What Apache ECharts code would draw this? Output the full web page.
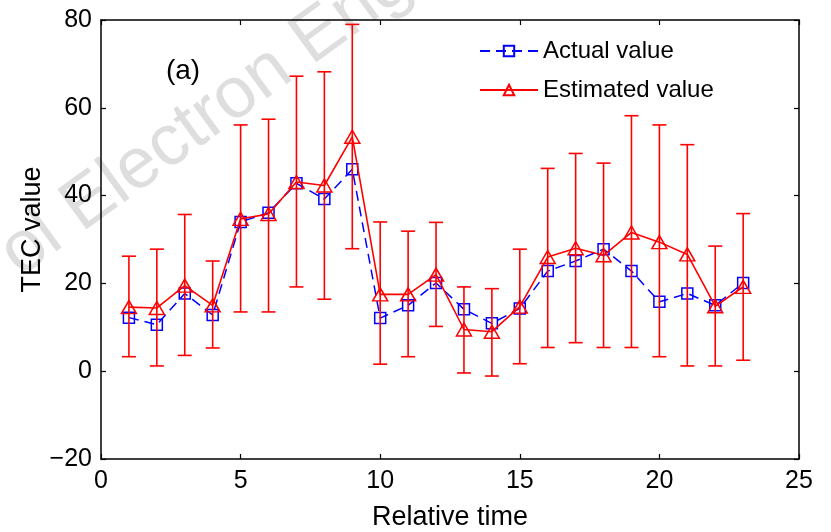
<!DOCTYPE html>
<html><head><meta charset="utf-8">
<script src="https://cdn.jsdelivr.net/npm/echarts@6/dist/echarts.min.js"></script>
<style>html,body{margin:0;padding:0;background:#fff}#c{width:831px;height:532px}</style>
</head><body><div id="c"></div><script>
const times = [1,2,3,4,5,6,7,8,9,10,11,12,13,14,15,16,17,18,19,20,21,22,23];
const actualValue = [12.2,10.6,17.7,12.8,34.0,36.1,42.8,39.2,46.0,12.1,15.0,20.1,14.1,10.9,14.3,22.8,25.1,27.8,22.8,15.8,17.7,15.0,20.1];
const estimatedValue = [14.6,14.4,19.5,15.0,34.7,35.8,43.1,42.3,53.4,17.5,17.5,22.0,9.5,9.0,14.7,26.0,28.0,26.4,31.6,29.4,26.6,14.8,19.2];
const errLow = [3.3,1.2,3.6,5.3,13.5,13.5,19.2,16.4,27.9,1.6,3.3,10.2,-0.4,-1.1,1.7,5.4,6.5,5.4,5.4,3.3,1.2,1.2,2.5];
const errHigh = [26.2,27.8,35.7,25.1,56.1,57.4,67.2,68.2,79.0,34.0,31.9,33.9,19.2,18.8,27.8,46.2,49.6,47.4,58.2,56.1,51.6,28.5,35.9];
const seriesNames = ['Actual value','Estimated value'];
const xTitle = 'Relative time';
const yTitle = 'TEC value';
const panelLabel = '(a)';
const watermark = 'ol Electron Eng';

const FONT = '"Liberation Sans", Arial, sans-serif';
const chart = echarts.init(document.getElementById('c'), null, {renderer:'canvas'});
const axisCommon = {
  axisLine:{show:true, onZero:false, lineStyle:{color:'#000', width:1.5}},
  axisTick:{show:true, inside:true, length:5, lineStyle:{color:'#000', width:1.2}},
  splitLine:{show:false}
};
chart.setOption({
  animation:false,
  backgroundColor:'#fff',
  graphic:[
    {type:'text', x:206, y:118, rotation:36*Math.PI/180, z:-10, silent:true,
     style:{text:watermark, font:'72px '+FONT, fill:'#dedede', align:'center', verticalAlign:'middle'}},
    {type:'text', x:183, y:71, z:10,
     style:{text:panelLabel, font:'28px '+FONT, fill:'#000', align:'center', verticalAlign:'middle'}}
  ],
  grid:{left:101, right:32, top:20, bottom:73, containLabel:false, outerBoundsMode:'none'},
  legend:{
    data:seriesNames, orient:'vertical', left:474, top:34, itemWidth:58, itemHeight:13, itemGap:15,
    textStyle:{fontFamily:FONT, fontSize:24, color:'#000', lineHeight:24}
  },
  xAxis:[
    Object.assign({type:'value', min:0, max:25, interval:5, position:'bottom',
      name:xTitle, nameLocation:'middle', nameGap:45, nameMoveOverlap:false,
      nameTextStyle:{fontFamily:FONT, fontSize:27, color:'#000'},
      axisLabel:{fontFamily:FONT, fontSize:25, color:'#000', margin:10}}, axisCommon),
    Object.assign({type:'value', min:0, max:25, interval:5, position:'top', axisLabel:{show:false}}, axisCommon)
  ],
  yAxis:[
    Object.assign({type:'value', min:-20, max:80, interval:20, position:'left',
      name:yTitle, nameLocation:'middle', nameGap:55, nameMoveOverlap:false,
      nameTextStyle:{fontFamily:FONT, fontSize:27, color:'#000', padding:[0,0,0,20]},
      axisLabel:{fontFamily:FONT, fontSize:25, color:'#000', margin:9,
        formatter:v => String(v).replace('-', '\u2212')}}, axisCommon),
    Object.assign({type:'value', min:-20, max:80, interval:20, position:'right', axisLabel:{show:false}}, axisCommon)
  ],
  series:[
    {name:seriesNames[0], type:'line', xAxisIndex:0, yAxisIndex:0,
     data:times.map((t,i)=>[t, actualValue[i]]),
     symbol:'rect', symbolSize:11,
     itemStyle:{color:'rgba(255,255,255,0)', borderColor:'#0000ff', borderWidth:1.5},
     lineStyle:{color:'#0000ff', width:1.5, type:[10,6]}, z:3},
    {type:'custom', xAxisIndex:0, yAxisIndex:0,
     data:times.map((t,i)=>[t, errLow[i], errHigh[i]]),
     encode:{x:0, y:[1,2]}, z:4,
     renderItem:function(params, api){
       const x = api.value(0);
       const lo = api.coord([x, api.value(1)]);
       const hi = api.coord([x, api.value(2)]);
       const w = 7;
       const st = {stroke:'#ff0000', lineWidth:1.6};
       return {type:'group', children:[
         {type:'line', shape:{x1:lo[0], y1:lo[1], x2:hi[0], y2:hi[1]}, style:st},
         {type:'line', shape:{x1:lo[0]-w, y1:lo[1], x2:lo[0]+w, y2:lo[1]}, style:st},
         {type:'line', shape:{x1:hi[0]-w, y1:hi[1], x2:hi[0]+w, y2:hi[1]}, style:st}
       ]};
     }},
    {name:seriesNames[1], type:'line', xAxisIndex:0, yAxisIndex:0,
     data:times.map((t,i)=>[t, estimatedValue[i]]),
     symbol:'triangle', symbolSize:[15,13],
     itemStyle:{color:'rgba(255,255,255,0)', borderColor:'#ff0000', borderWidth:1.5},
     lineStyle:{color:'#ff0000', width:1.6, type:'solid'}, z:5}
  ]
});
</script></body></html>
